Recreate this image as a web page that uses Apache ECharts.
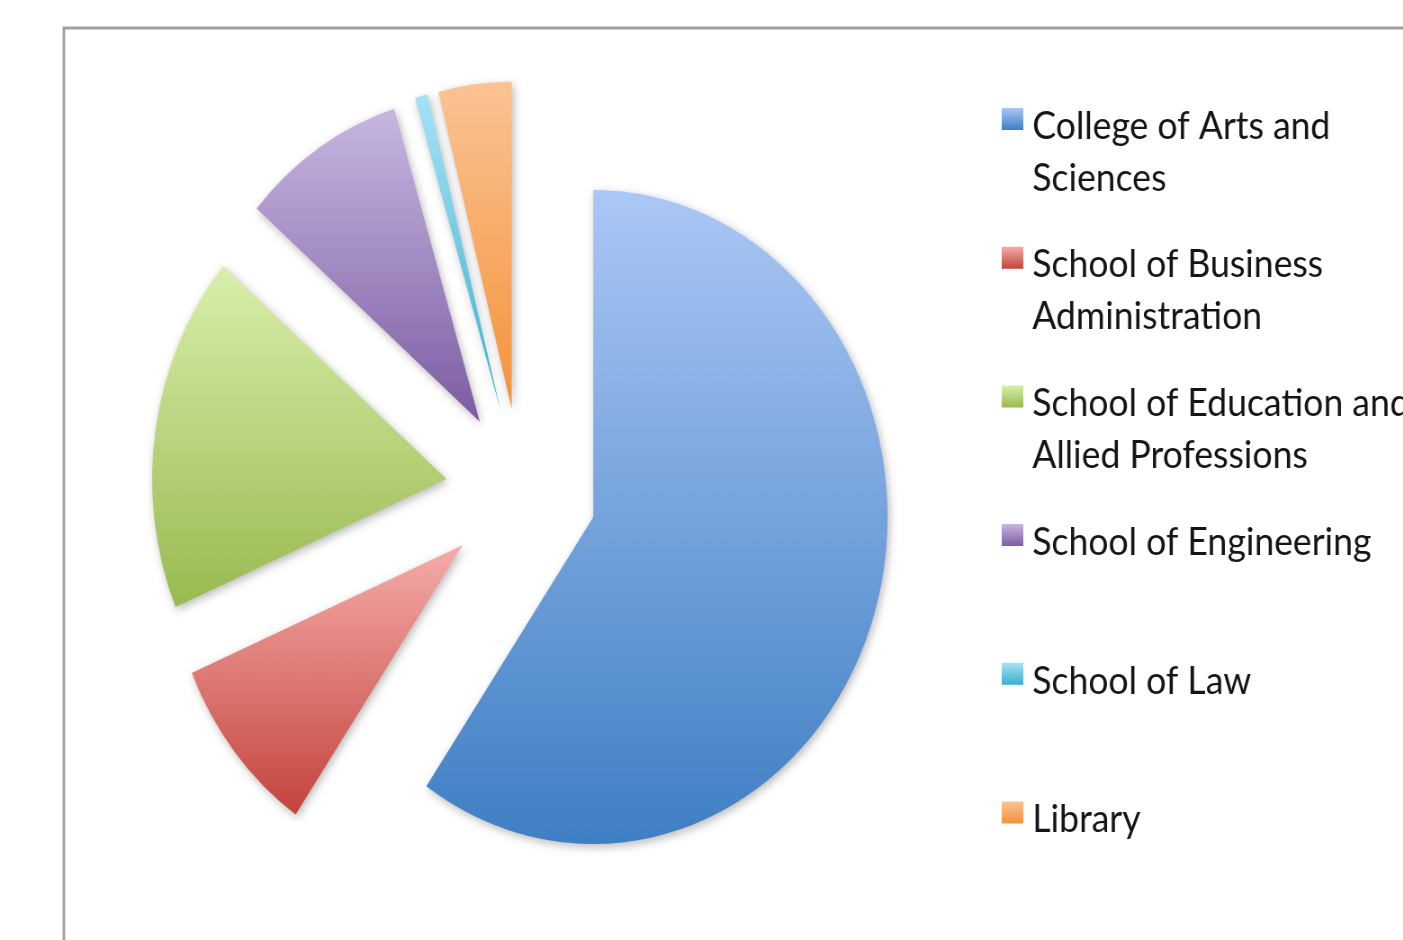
<!DOCTYPE html>
<html>
<head>
<meta charset="utf-8">
<script src="https://cdn.jsdelivr.net/npm/echarts@6/dist/echarts.min.js"></script>
<style>
  html, body { margin: 0; padding: 0; background: #fff; overflow: hidden; }
  #wrap { width: 1403px; height: 940px; overflow: hidden; }
  #chart { width: 1559px; height: 940px; transform: scaleX(0.9); transform-origin: 0 0; }
</style>
</head>
<body>
<div id="wrap"><div id="chart"></div></div>
<script>
// Data
const categories = [
  'College of Arts and Sciences',
  'School of Business Administration',
  'School of Education and Allied Professions',
  'School of Engineering',
  'School of Law',
  'Library'
];
const legendLines = [
  ['College of Arts and', 'Sciences'],
  ['School of Business', 'Administration'],
  ['School of Education and', 'Allied Professions'],
  ['School of Engineering', ''],
  ['School of Law', ''],
  ['Library', '']
];
const shares = [59.6, 9.0, 17.7, 9.0, 0.7, 4.0];
const gradTop = ['#abc7f5', '#f5aca9', '#d9efab', '#c7b7e0', '#a8e2f6', '#fbc393'];
const gradBottom = ['#3f7fc4', '#c4443d', '#98ba50', '#7c5ca3', '#38b0cd', '#f4923a'];

const chart = echarts.init(document.getElementById('chart'), null, { renderer: 'canvas' });

const data = categories.map((name, i) => ({
  name: name,
  value: shares[i],
  selected: true,
  itemStyle: {
    color: new echarts.graphic.LinearGradient(0, 0, 0, 1, [
      { offset: 0, color: gradTop[i] },
      { offset: 1, color: gradBottom[i] }
    ])
  }
}));

const legendColors = {};
categories.forEach((c, i) => {
  legendColors[c] = new echarts.graphic.LinearGradient(0, 0, 0, 0.61, [
    { offset: 0, color: gradTop[i] },
    { offset: 1, color: gradBottom[i] }
  ]);
});

chart.setOption({
  animation: false,
  backgroundColor: '#ffffff',
  graphic: [{
    type: 'rect',
    shape: { x: 71, y: 28, width: 3000, height: 3000 },
    style: { fill: 'none', stroke: '#a0a0a0', lineWidth: 2.8 },
    z: -10,
    silent: true
  }],
  legend: {
    orient: 'vertical',
    left: 1108,
    top: 43,
    itemWidth: 24,
    itemHeight: 36,
    itemGap: -17.3,
    icon: 'path://M0,0L24,0L24,22L0,22Z M0,36L0.05,36L0,35.95Z',
    selectedMode: false,
    data: categories.map((c, i) => ({ name: c, itemStyle: { color: legendColors[c] } })),
    formatter: function (name) {
      const idx = categories.indexOf(name);
      return '\n' + legendLines[idx][0] + '\n' + legendLines[idx][1];
    },
    textStyle: {
      fontFamily: 'Lato',
      fontSize: 39.5,
      lineHeight: 52,
      color: '#151515',
      padding: [0, 0, 0, 5]
    }
  },
  series: [{
    type: 'pie',
    center: [579, 492],
    radius: 327,
    startAngle: 90,
    clockwise: true,
    selectedMode: 'multiple',
    selectedOffset: 84,
    avoidLabelOverlap: false,
    label: { show: false },
    labelLine: { show: false },
    emphasis: { disabled: true, scale: false },
    itemStyle: {
      borderWidth: 0,
      shadowBlur: 10,
      shadowColor: 'rgba(0,0,0,0.28)',
      shadowOffsetX: 2,
      shadowOffsetY: 3
    },
    data: data
  }]
});
</script>
</body>
</html>
